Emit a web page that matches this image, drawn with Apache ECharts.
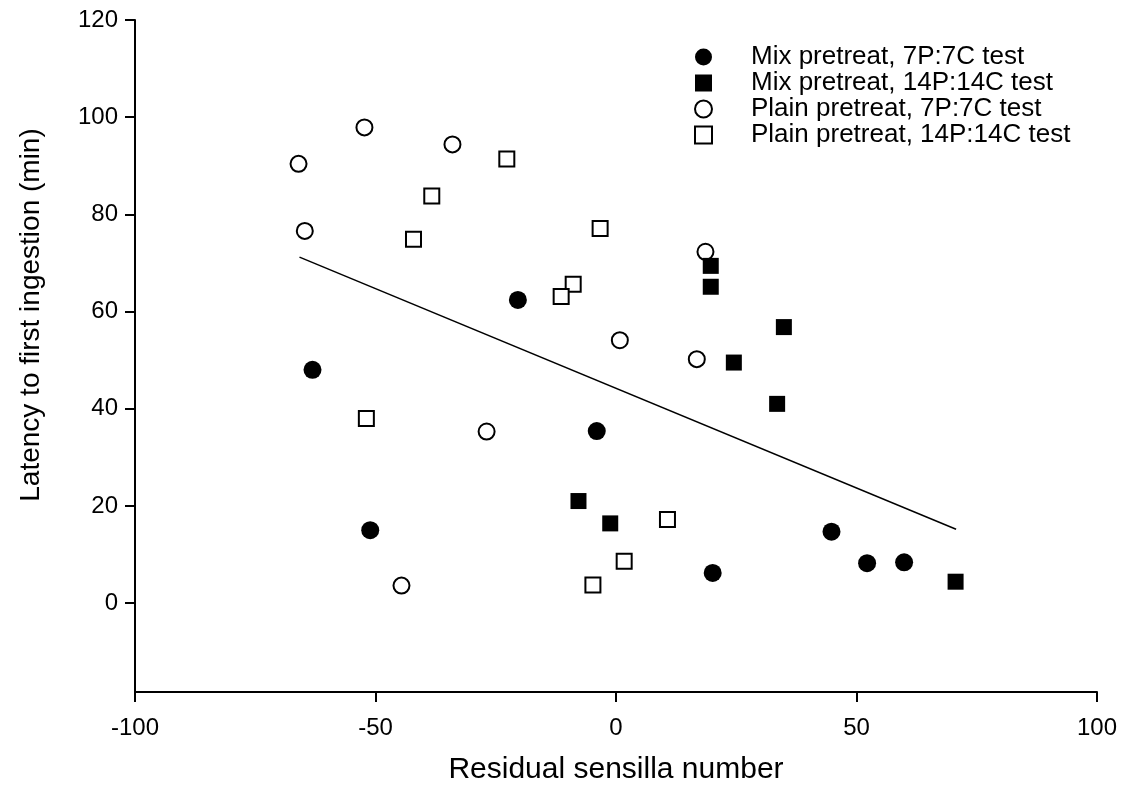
<!DOCTYPE html>
<html>
<head>
<meta charset="utf-8">
<script src="https://cdn.jsdelivr.net/npm/echarts@6/dist/echarts.min.js"></script>
<style>
    html, body { margin: 0; padding: 0; background: #fff; }
    #container { width: 1125px; height: 803px; }
</style>
</head>
<body>
<div id="container"></div>
<script>
// values: [residual sensilla number, latency (min)]
const mix7 = [[-63.1, 48.0], [-51.1, 15.0], [-20.4, 62.4], [-4.0, 35.4], [20.1, 6.2], [44.8, 14.7], [52.2, 8.2], [59.9, 8.4]];
const mix14 = [[-7.8, 21.0], [-1.2, 16.4], [19.7, 69.4], [19.7, 65.1], [24.5, 49.5], [33.5, 41.0], [34.9, 56.8], [70.6, 4.4]];
const plain7 = [[-66.0, 90.4], [-64.7, 76.6], [-52.3, 97.9], [-34.0, 94.4], [-44.6, 3.6], [-26.9, 35.3], [0.8, 54.1], [16.8, 50.2], [18.6, 72.3]];
const plain14 = [[-51.9, 38.0], [-42.1, 74.9], [-38.3, 83.8], [-22.7, 91.4], [-8.9, 65.6], [-11.4, 63.1], [-3.3, 77.1], [-4.8, 3.7], [1.7, 8.6], [10.7, 17.2]];
// regression line end points
const fitLine = [[-65.8, 71.2], [70.7, 15.2]];

const names = ['Mix pretreat, 7P:7C test', 'Mix pretreat, 14P:14C test', 'Plain pretreat, 7P:7C test', 'Plain pretreat, 14P:14C test'];
const yTicks = [0, 20, 40, 60, 80, 100, 120];

window.onload = function () {
    const dom = document.getElementById("container");
    const myChart = echarts.init(dom);
    const font = 'Liberation Sans, Arial, sans-serif';

    const option = {
        animation: false,
        backgroundColor: '#fff',
        grid: { left: 135, right: 28, top: 20, bottom: 111 },
        legend: {
            data: names,
            orient: 'vertical',
            left: 689,
            top: 39,
            itemWidth: 17,
            itemHeight: 17,
            itemGap: 0,
            textStyle: { fontFamily: font, fontSize: 26, color: '#000', lineHeight: 26, padding: [0, 0, 0, 34] }
        },
        xAxis: {
            type: 'value',
            min: -100,
            max: 100,
            interval: 50,
            name: 'Residual sensilla number',
            nameLocation: 'middle',
            nameGap: 63,
            nameTextStyle: { fontFamily: font, fontSize: 30, color: '#000' },
            axisLine: { onZero: false, lineStyle: { color: '#000', width: 2 } },
            axisTick: { length: 10, lineStyle: { color: '#000', width: 2 } },
            axisLabel: { fontFamily: font, fontSize: 24, color: '#000', margin: 24 },
            splitLine: { show: false }
        },
        yAxis: {
            type: 'value',
            min: -18.3,
            max: 120,
            name: 'Latency to first ingestion (min)',
            nameLocation: 'middle',
            nameGap: 90,
            nameTextStyle: { fontFamily: font, fontSize: 28, color: '#000', padding: [0, 0, 0, 82] },
            axisLine: { onZero: false, lineStyle: { color: '#000', width: 2 } },
            axisTick: { length: 10, customValues: yTicks, lineStyle: { color: '#000', width: 2 } },
            axisLabel: { fontFamily: font, fontSize: 24, color: '#000', margin: 17, customValues: yTicks },
            splitLine: { show: false }
        },
        series: [
            {
                type: 'line',
                data: fitLine,
                symbol: 'none',
                silent: true,
                lineStyle: { color: '#000', width: 1.5 }
            },
            {
                name: names[2],
                type: 'scatter',
                data: plain7,
                symbol: 'circle',
                symbolSize: 16,
                itemStyle: { color: '#fff', borderColor: '#000', borderWidth: 2, opacity: 1 }
            },
            {
                name: names[3],
                type: 'scatter',
                data: plain14,
                symbol: 'rect',
                symbolSize: 15,
                itemStyle: { color: '#fff', borderColor: '#000', borderWidth: 2, opacity: 1 }
            },
            {
                name: names[0],
                type: 'scatter',
                data: mix7,
                symbol: 'circle',
                symbolSize: 18,
                itemStyle: { color: '#000', opacity: 1 }
            },
            {
                name: names[1],
                type: 'scatter',
                data: mix14,
                symbol: 'rect',
                symbolSize: 16,
                itemStyle: { color: '#000', opacity: 1 }
            }
        ]
    };

    myChart.setOption(option);
};
</script>
</body>
</html>
